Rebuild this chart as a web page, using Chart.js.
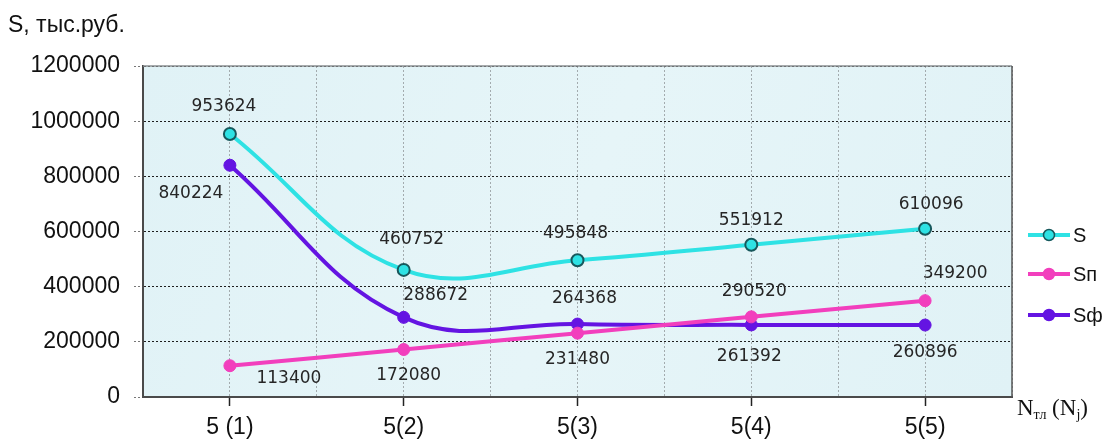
<!DOCTYPE html>
<html>
<head>
<meta charset="utf-8">
<script src="https://cdn.jsdelivr.net/npm/chart.js@4/dist/chart.umd.min.js"></script>
<style>
  html, body { margin: 0; padding: 0; background: #fff; }
  #wrap { width: 1111px; height: 443px; position: relative; }
</style>
</head>
<body>
<div id="wrap"><canvas id="chart"></canvas></div>
<script>
// data
const categories = ['5 (1)', '5(2)', '5(3)', '5(4)', '5(5)'];
const sTotal = [953624, 460752, 495848, 551912, 610096];
const sP = [113400, 172080, 231480, 290520, 349200];
const sF = [840224, 288672, 264368, 261392, 260896];
const yTicks = [0, 200000, 400000, 600000, 800000, 1000000, 1200000];
const seriesNames = ['S', 'Sп', 'Sф'];

// where each value label sits relative to its point (px)
const labelOffsets = [
    [[-6, -27], [8, -30], [-2, -27], [0, -24], [6, -24]],
    [[59, 13], [5, 26], [0, 26], [3, -25], [30, -27]],
    [[-39, 28], [32, -22], [7, -26], [-2, 32], [0, 28]]
];

const colors = ['#2ee2e4', '#f23fbd', '#6414e2'];
const pointBorders = ['#17585c', '#f23fbd', '#6414e2'];

// plot background
const bgPlugin = {
    id: 'bg',
    beforeDraw(chart) {
        const {ctx, chartArea: a} = chart;
        ctx.save();
        let g = ctx.createLinearGradient(a.left, a.top, a.right, a.bottom);
        g.addColorStop(0, '#e0f2f6');
        g.addColorStop(0.5, '#e6f5f8');
        g.addColorStop(1, '#e0f2f6');
        ctx.fillStyle = g;
        ctx.fillRect(a.left, a.top, a.right - a.left, a.bottom - a.top);
        ctx.restore();
    }
};

// value labels next to the points
const labelPlugin = {
    id: 'vals',
    afterDatasetsDraw(chart) {
        const ctx = chart.ctx;
        ctx.save();
        ctx.font = "17px 'DejaVu Sans', sans-serif";
        ctx.fillStyle = '#262626';
        ctx.textAlign = 'center';
        ctx.textBaseline = 'middle';
        chart.data.datasets.forEach((ds, i) => {
            const meta = chart.getDatasetMeta(i);
            meta.data.forEach((pt, j) => {
                const off = labelOffsets[i][j];
                ctx.fillText(String(ds.data[j]), pt.x + off[0], pt.y + off[1]);
            });
        });
        ctx.restore();
    }
};

// titles, frame and legend
const textPlugin = {
    id: 'texts',
    afterDraw(chart) {
        const {ctx, chartArea: a} = chart;
        ctx.save();

        // top and right frame
        ctx.strokeStyle = '#8a8f92';
        ctx.lineWidth = 1.5;
        ctx.beginPath();
        ctx.moveTo(a.left, a.top);
        ctx.lineTo(a.right, a.top);
        ctx.stroke();
        ctx.strokeStyle = '#555';
        ctx.beginPath();
        ctx.moveTo(a.right, a.top);
        ctx.lineTo(a.right, a.bottom);
        ctx.stroke();

        // y title
        ctx.fillStyle = '#111';
        ctx.font = "23px 'Liberation Sans', Arial, sans-serif";
        ctx.textBaseline = 'alphabetic';
        ctx.textAlign = 'left';
        ctx.fillText('S, тыс.руб.', 8, 32);

        // x title: N_тл (N_j)
        let x = 1017, base = 415;
        const big = "23px 'Liberation Serif', 'Times New Roman', serif";
        const small = "14px 'Liberation Serif', 'Times New Roman', serif";
        const parts = [['N', big, 0], ['тл', small, 4], [' (N', big, 0], ['j', small, 4], [')', big, 0]];
        parts.forEach(p => {
            ctx.font = p[1];
            ctx.fillText(p[0], x, base + p[2]);
            x += ctx.measureText(p[0]).width;
        });

        // legend
        const ly = [235, 274, 315];
        ctx.font = "20px 'Liberation Sans', Arial, sans-serif";
        ctx.textBaseline = 'middle';
        seriesNames.forEach((name, i) => {
            ctx.strokeStyle = colors[i];
            ctx.lineWidth = 4;
            ctx.beginPath();
            ctx.moveTo(1028, ly[i]);
            ctx.lineTo(1070, ly[i]);
            ctx.stroke();
            ctx.beginPath();
            ctx.arc(1049, ly[i], 5.5, 0, Math.PI * 2);
            ctx.fillStyle = colors[i];
            ctx.fill();
            ctx.lineWidth = 1.5;
            ctx.strokeStyle = pointBorders[i];
            ctx.stroke();
            ctx.fillStyle = '#111';
            ctx.fillText(name, 1073, ly[i] + 1);
        });
        ctx.restore();
    }
};

function makeSet(label, data, i) {
    return {
        label: label,
        data: data,
        borderColor: colors[i],
        backgroundColor: colors[i],
        pointBackgroundColor: colors[i],
        pointBorderColor: pointBorders[i],
        pointBorderWidth: i === 0 ? 2 : 1,
        pointRadius: 6,
        borderWidth: 4,
        tension: 0.4,
        fill: false
    };
}

new Chart(document.getElementById('chart'), {
    type: 'line',
    data: {
        labels: categories,
        datasets: [
            makeSet(seriesNames[0], sTotal, 0),
            makeSet(seriesNames[1], sP, 1),
            makeSet(seriesNames[2], sF, 2)
        ]
    },
    options: {
        responsive: true,
        maintainAspectRatio: false,
        animation: false,
        events: [],
        layout: { padding: { top: 66, right: 99, bottom: 0, left: 0 } },
        plugins: { legend: { display: false }, tooltip: { enabled: false } },
        scales: {
            x: {
                offset: true,
                grid: {
                    offset: false,
                    color: '#a3abae',
                    tickLength: 9,
                    tickColor: '#222',
                    tickBorderDash: [],
                    tickWidth: 1.5
                },
                border: { color: '#4a4a4a', width: 2, dash: [2, 2] },
                ticks: {
                    color: '#111',
                    padding: 8,
                    maxRotation: 0,
                    font: { family: "'Liberation Sans', Arial, sans-serif", size: 23 }
                },
                afterFit(scale) { scale.height = 46; }
            },
            x2: {
                position: 'top',
                offset: true,
                labels: categories,
                grid: {
                    offset: true,
                    color: '#a3abae',
                    drawTicks: false
                },
                border: { display: false, dash: [2, 2] },
                ticks: { display: false },
                afterFit(scale) { scale.height = 0; }
            },
            y: {
                min: yTicks[0],
                max: yTicks[yTicks.length - 1],
                afterBuildTicks(scale) {
                    scale.ticks = yTicks.map(v => ({ value: v }));
                },
                grid: {
                    color: '#1e1e1e',
                    tickLength: 9,
                    tickColor: '#777',
                    tickBorderDash: [2, 2]
                },
                border: { color: '#4a4a4a', width: 2, dash: [2, 2] },
                ticks: {
                    color: '#111',
                    padding: 14,
                    callback: v => String(v),
                    font: { family: "'Liberation Sans', Arial, sans-serif", size: 23 }
                },
                afterFit(scale) { scale.width = 143; }
            }
        }
    },
    plugins: [bgPlugin, labelPlugin, textPlugin]
});
</script>
</body>
</html>
